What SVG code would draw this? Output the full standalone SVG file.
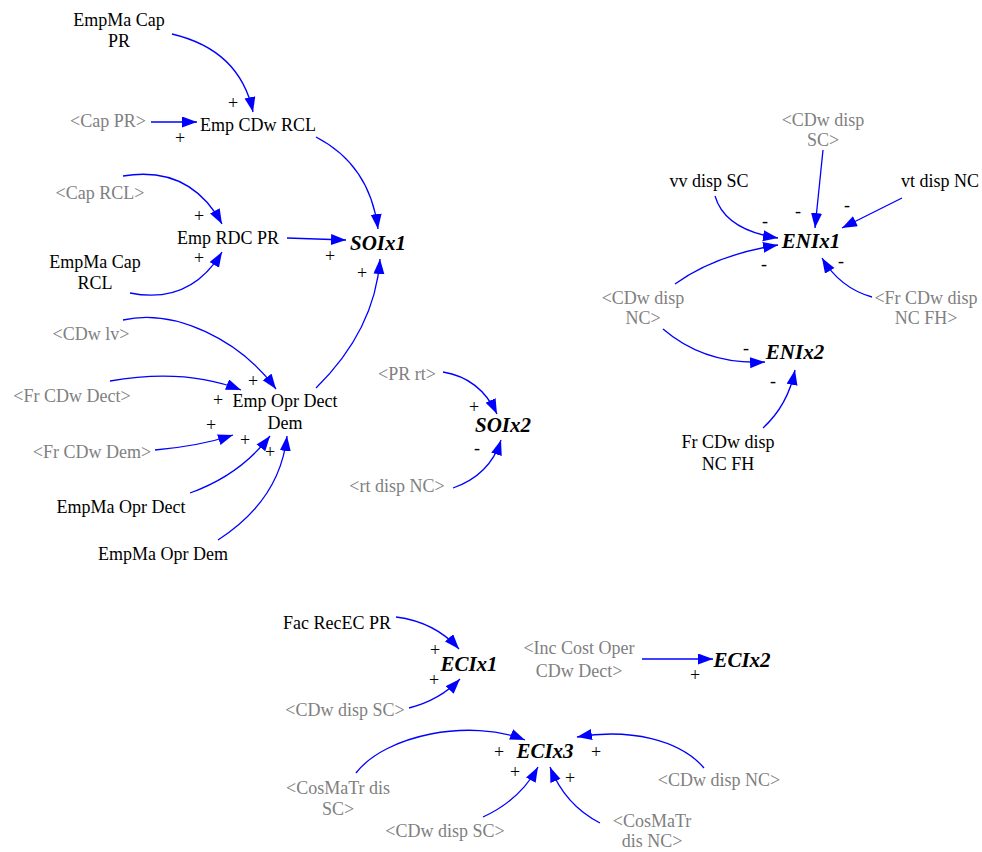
<svg xmlns="http://www.w3.org/2000/svg" width="982" height="852" viewBox="0 0 982 852">
  <style>
    text { font-family: "Liberation Serif", "Times New Roman", serif; font-size: 18px; text-anchor: middle; }
    .var { fill: #000000; }
    .shadow { fill: #808080; }
    .key { font-size: 21px; font-weight: bold; font-style: italic; fill: #000000; }
    .pol { fill: #000000; }
    .link { fill: none; stroke: #0000ff; stroke-width: 1.3; marker-end: url(#head); }
  </style>
  <defs>
    <marker id="head" markerUnits="userSpaceOnUse" markerWidth="16" markerHeight="12" refX="15" refY="5.5" orient="auto">
      <path d="M0,0 L15,5.5 L0,11 Z" fill="#0000ff"/>
    </marker>
  </defs>

  <!-- causal links -->
  <g id="connectors">
    <path class="link" d="M172,34 Q240,50 253,112"/>
    <path class="link" d="M151,122 L197,122"/>
    <path class="link" d="M316,137 Q370,165 378,229"/>
    <path class="link" d="M123,176 Q190,165 222,224"/>
    <path class="link" d="M130,293 Q190,305 222,252"/>
    <path class="link" d="M287,238 L346,240"/>
    <path class="link" d="M316,388 Q375,330 380,259"/>
    <path class="link" d="M123,320 C175,308 240,340 276,389"/>
    <path class="link" d="M110,381 Q185,368 241,390"/>
    <path class="link" d="M155,450 Q200,446 233,435"/>
    <path class="link" d="M190,493 Q240,475 270,436"/>
    <path class="link" d="M218,540 Q280,500 287,436"/>
    <path class="link" d="M443,372 Q480,378 497,414"/>
    <path class="link" d="M453,488 Q490,475 501,440"/>
    <path class="link" d="M823,150 L815,228"/>
    <path class="link" d="M715,196 Q725,230 778,238"/>
    <path class="link" d="M902,198 L842,228"/>
    <path class="link" d="M675,284 Q715,255 778,245"/>
    <path class="link" d="M872,297 Q840,288 822,258"/>
    <path class="link" d="M663,329 Q705,365 765,362"/>
    <path class="link" d="M763,428 Q788,405 795,370"/>
    <path class="link" d="M396,617 Q435,622 459,649"/>
    <path class="link" d="M409,708 Q440,700 460,679"/>
    <path class="link" d="M642,659 L713,659"/>
    <path class="link" d="M356,773 C385,735 470,718 525,740"/>
    <path class="link" d="M704,768 C680,740 630,728 577,737"/>
    <path class="link" d="M483,817 Q520,800 538,767"/>
    <path class="link" d="M600,823 Q565,805 550,767"/>

    <!-- link polarities -->
    <g id="polarities">
      <text class="pol" x="233" y="109">+</text>
      <text class="pol" x="180" y="144">+</text>
      <text class="pol" x="199" y="222">+</text>
      <text class="pol" x="199" y="264">+</text>
      <text class="pol" x="330" y="262">+</text>
      <text class="pol" x="362" y="279">+</text>
      <text class="pol" x="253" y="387">+</text>
      <text class="pol" x="218" y="406">+</text>
      <text class="pol" x="211" y="431">+</text>
      <text class="pol" x="245" y="446">+</text>
      <text class="pol" x="270" y="458">+</text>
      <text class="pol" x="474" y="413">+</text>
      <text class="pol" x="477" y="454">-</text>
      <text class="pol" x="798" y="217">-</text>
      <text class="pol" x="765" y="227">-</text>
      <text class="pol" x="847" y="211">-</text>
      <text class="pol" x="764" y="270">-</text>
      <text class="pol" x="841" y="267">-</text>
      <text class="pol" x="746" y="354">-</text>
      <text class="pol" x="773" y="387">-</text>
      <text class="pol" x="435" y="656">+</text>
      <text class="pol" x="434" y="686">+</text>
      <text class="pol" x="695" y="681">+</text>
      <text class="pol" x="499" y="758">+</text>
      <text class="pol" x="596" y="758">+</text>
      <text class="pol" x="515" y="778">+</text>
      <text class="pol" x="570" y="784">+</text>
    </g>
  </g>

  <!-- variables -->
  <g id="EmpMaCapPR"><text class="var" x="119" y="26">EmpMa Cap</text><text class="var" x="119" y="47">PR</text></g>
  <g id="CapPR"><text class="shadow" x="108" y="127">&lt;Cap PR&gt;</text></g>
  <g id="EmpCDwRCL"><text class="var" x="258" y="131">Emp CDw RCL</text></g>
  <g id="CapRCL"><text class="shadow" x="100" y="199">&lt;Cap RCL&gt;</text></g>
  <g id="EmpRDCPR"><text class="var" x="228" y="244">Emp RDC PR</text></g>
  <g id="EmpMaCapRCL"><text class="var" x="95" y="268">EmpMa Cap</text><text class="var" x="95" y="289">RCL</text></g>
  <g id="SOIx1"><text class="key" x="378" y="250">SOIx1</text></g>
  <g id="CDwlv"><text class="shadow" x="91" y="340">&lt;CDw lv&gt;</text></g>
  <g id="FrCDwDect"><text class="shadow" x="72" y="402">&lt;Fr CDw Dect&gt;</text></g>
  <g id="EmpOprDectDem"><text class="var" x="285" y="407">Emp Opr Dect</text><text class="var" x="285" y="429">Dem</text></g>
  <g id="FrCDwDem"><text class="shadow" x="92" y="458">&lt;Fr CDw Dem&gt;</text></g>
  <g id="EmpMaOprDect"><text class="var" x="121" y="513">EmpMa Opr Dect</text></g>
  <g id="EmpMaOprDem"><text class="var" x="163" y="560">EmpMa Opr Dem</text></g>
  <g id="PRrt"><text class="shadow" x="407" y="380">&lt;PR rt&gt;</text></g>
  <g id="SOIx2"><text class="key" x="503" y="432">SOIx2</text></g>
  <g id="rtdispNC"><text class="shadow" x="397" y="492">&lt;rt disp NC&gt;</text></g>

  <g id="CDwdispSC_top"><text class="shadow" x="823" y="126">&lt;CDw disp</text><text class="shadow" x="823" y="146">SC&gt;</text></g>
  <g id="vvdispSC"><text class="var" x="709" y="187">vv disp SC</text></g>
  <g id="vtdispNC"><text class="var" x="940" y="187">vt disp NC</text></g>
  <g id="ENIx1"><text class="key" x="811" y="248">ENIx1</text></g>
  <g id="CDwdispNC_top"><text class="shadow" x="643" y="304">&lt;CDw disp</text><text class="shadow" x="643" y="324">NC&gt;</text></g>
  <g id="FrCDwdispNCFH_shadow"><text class="shadow" x="926" y="304">&lt;Fr CDw disp</text><text class="shadow" x="926" y="324">NC FH&gt;</text></g>
  <g id="ENIx2"><text class="key" x="795" y="359">ENIx2</text></g>
  <g id="FrCDwdispNCFH"><text class="var" x="728" y="448">Fr CDw disp</text><text class="var" x="728" y="470">NC FH</text></g>

  <g id="FacRecECPR"><text class="var" x="337" y="629">Fac RecEC PR</text></g>
  <g id="ECIx1"><text class="key" x="469" y="671">ECIx1</text></g>
  <g id="CDwdispSC_a"><text class="shadow" x="345" y="716">&lt;CDw disp SC&gt;</text></g>
  <g id="IncCostOperCDwDect"><text class="shadow" x="579" y="654">&lt;Inc Cost Oper</text><text class="shadow" x="579" y="677">CDw Dect&gt;</text></g>
  <g id="ECIx2"><text class="key" x="742" y="667">ECIx2</text></g>
  <g id="ECIx3"><text class="key" x="545" y="758">ECIx3</text></g>
  <g id="CosMaTrdisSC"><text class="shadow" x="338" y="794">&lt;CosMaTr dis</text><text class="shadow" x="338" y="815">SC&gt;</text></g>
  <g id="CDwdispSC_b"><text class="shadow" x="445" y="837">&lt;CDw disp SC&gt;</text></g>
  <g id="CDwdispNC_bottom"><text class="shadow" x="719" y="786">&lt;CDw disp NC&gt;</text></g>
  <g id="CosMaTrdisNC"><text class="shadow" x="652" y="827">&lt;CosMaTr</text><text class="shadow" x="652" y="847">dis NC&gt;</text></g>
</svg>
